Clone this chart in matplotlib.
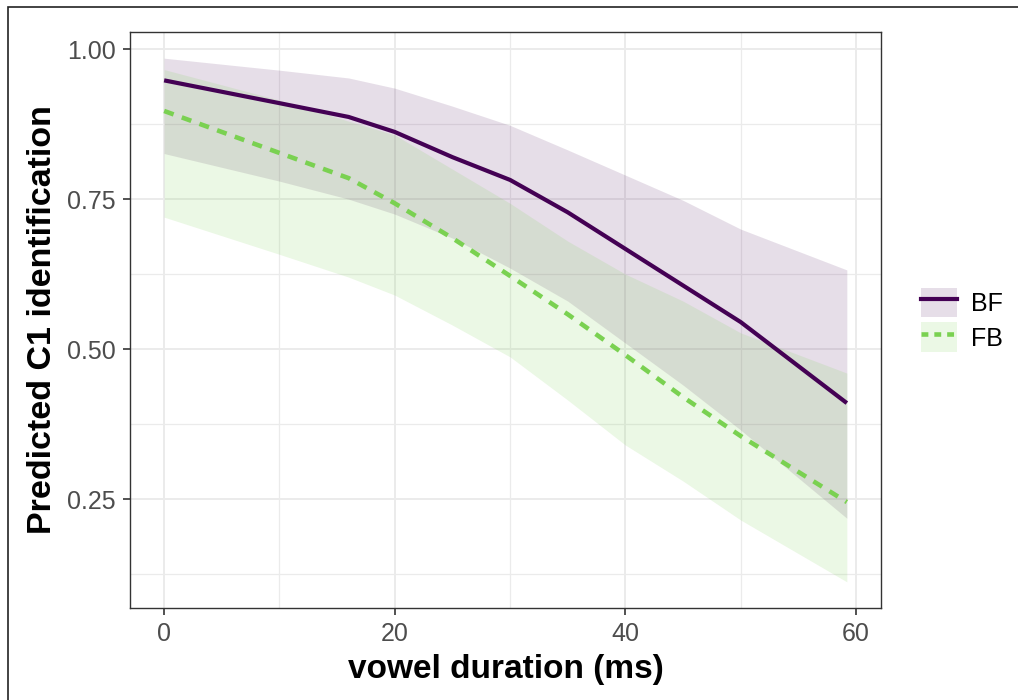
import matplotlib
matplotlib.use("Agg")
import matplotlib.pyplot as plt
from matplotlib.patches import Patch, Rectangle
from matplotlib.lines import Line2D

plt.rcParams["font.family"] = ["Liberation Sans", "DejaVu Sans"]

# predicted C1 identification by vowel duration (ms)
duration = [0, 10, 16, 20, 25, 30, 35, 40, 45, 50, 59.2]

bf_fit   = [0.948, 0.910, 0.887, 0.862, 0.820, 0.782, 0.728, 0.667, 0.606, 0.545, 0.410]
bf_upper = [0.985, 0.965, 0.952, 0.935, 0.905, 0.873, 0.832, 0.790, 0.748, 0.700, 0.632]
bf_lower = [0.826, 0.780, 0.750, 0.725, 0.685, 0.635, 0.580, 0.510, 0.440, 0.365, 0.218]

fb_fit   = [0.897, 0.827, 0.785, 0.743, 0.685, 0.622, 0.558, 0.490, 0.420, 0.355, 0.245]
fb_upper = [0.966, 0.915, 0.880, 0.857, 0.800, 0.743, 0.680, 0.625, 0.580, 0.527, 0.460]
fb_lower = [0.720, 0.658, 0.620, 0.590, 0.540, 0.487, 0.415, 0.340, 0.280, 0.215, 0.112]

x_ticks = [0, 20, 40, 60]
y_ticks = [0.25, 0.50, 0.75, 1.00]

PURPLE = "#440154"
GREEN  = "#7AD151"
A_PURPLE = 0.13
A_GREEN  = 0.15

fig = plt.figure(figsize=(10.18, 7.0), dpi=100)
ax = fig.add_axes([0.1277, 0.1314, 0.8654 - 0.1277, 0.9543 - 0.1314])

ax.fill_between(duration, bf_lower, bf_upper, color=PURPLE, alpha=A_PURPLE, lw=0, zorder=2)
ax.fill_between(duration, fb_lower, fb_upper, color=GREEN, alpha=A_GREEN, lw=0, zorder=2)
ax.plot(duration, bf_fit, color=PURPLE, lw=3.0, zorder=3, solid_capstyle="butt")
ax.plot(duration, fb_fit, color=GREEN, lw=3.3, ls=(0, (2.2, 1.9)), zorder=3)

# ggplot-style expansion (5%)
xr = max(duration) - min(duration)
ax.set_xlim(min(duration) - 0.05 * xr, max(duration) + 0.05 * xr)
ymin = min(fb_lower)
ymax = max(bf_upper)
yr = ymax - ymin
ax.set_ylim(ymin - 0.05 * yr, ymax + 0.05 * yr)

ax.set_xticks(x_ticks)
ax.set_yticks(y_ticks)
ax.set_yticklabels([f"{v:.2f}" for v in y_ticks])
ax.set_xticks([10, 30, 50], minor=True)
ax.set_yticks([0.125, 0.375, 0.625, 0.875], minor=True)

ax.grid(which="major", color="#EBEBEB", lw=1.4, zorder=0)
ax.grid(which="minor", color="#EBEBEB", lw=0.9, zorder=0)
ax.set_axisbelow(True)

ax.tick_params(which="major", length=5, width=1.2, color="#333333",
               labelsize=18, labelcolor="#4D4D4D", pad=5)
ax.tick_params(which="minor", length=0)
for s in ax.spines.values():
    s.set_color("#333333")
    s.set_linewidth(1.0)

ax.set_xlabel("vowel duration (ms)", fontsize=24, fontweight="bold", labelpad=6)
ax.set_ylabel("Predicted C1 identification", fontsize=24.5, fontweight="bold", labelpad=7)

handles = [
    (Patch(facecolor=PURPLE, alpha=A_PURPLE, lw=0), Line2D([], [], color=PURPLE, lw=3.0)),
    (Patch(facecolor=GREEN, alpha=A_GREEN, lw=0), Line2D([], [], color=GREEN, lw=3.3, ls=(0, (1.5, 1.3)))),
]
fig.legend(handles, ["BF", "FB"], loc="center left", bbox_to_anchor=(0.895, 0.543),
           frameon=False, fontsize=18, handlelength=1.45, handleheight=1.45,
           handletextpad=0.55, labelspacing=0.2, borderaxespad=0)

# outer frame (only left/top edges fall inside the image)
fig.add_artist(Rectangle((8 / 1018, -0.1), 1.2, 1.1 - 7 / 700,
                         transform=fig.transFigure, fill=False,
                         edgecolor="#222222", lw=1.2))

fig.savefig("out.png", dpi=100)
